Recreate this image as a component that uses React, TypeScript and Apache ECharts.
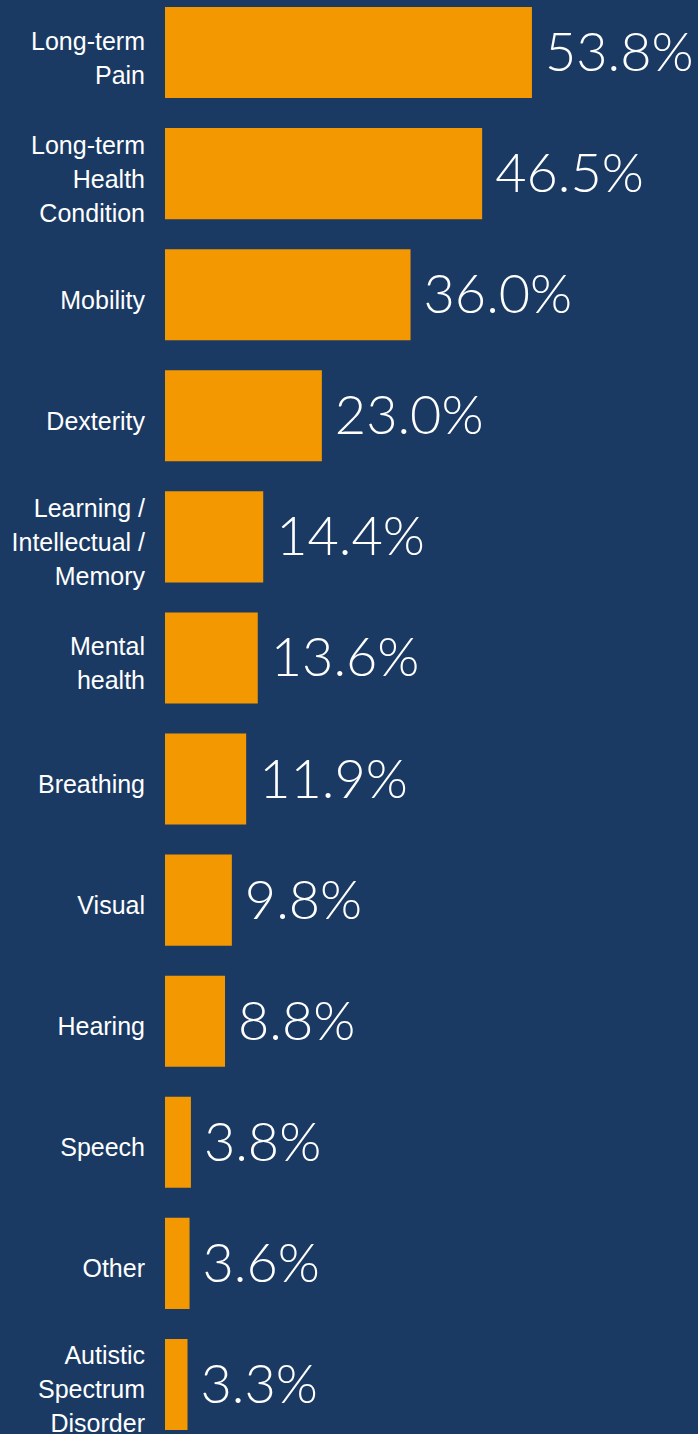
import React, { useEffect, useRef } from "react";
import * as echarts from "echarts";

const categories = [
  "Long-term\nPain",
  "Long-term\nHealth\nCondition",
  "Mobility",
  "Dexterity",
  "Learning /\nIntellectual /\nMemory",
  "Mental\nhealth",
  "Breathing",
  "Visual",
  "Hearing",
  "Speech",
  "Other",
  "Autistic\nSpectrum\nDisorder",
];
const values = [53.8, 46.5, 36.0, 23.0, 14.4, 13.6, 11.9, 9.8, 8.8, 3.8, 3.6, 3.3];

const BG = "#1a3a64";
const ORANGE = "#f39800";

export default function App() {
  const ref = useRef<HTMLDivElement>(null);
  useEffect(() => {
    document.body.style.margin = "0";
    document.body.style.overflow = "hidden";
    document.body.style.background = BG;
    const chart = echarts.init(ref.current!, null, { renderer: "svg" });
    chart.setOption({
      animation: false,
      backgroundColor: BG,
      grid: { left: 165, right: 1, top: 0, bottom: 0, containLabel: false },
      xAxis: {
        type: "value",
        min: 0,
        max: 78,
        show: false,
      },
      yAxis: {
        type: "category",
        inverse: true,
        data: categories,
        axisLine: { show: false },
        axisTick: { show: false },
        splitLine: { show: false },
        axisLabel: { show: false },
      },
      series: [
        {
          type: "bar",
          data: values,
          barCategoryGap: "24.8%",
          itemStyle: { color: ORANGE },
          label: {
            show: true,
            position: "right",
            distance: 13,
            offset: [0, -2],
            color: "#ffffff",
            fontFamily: "Lato, sans-serif",
            fontWeight: 300,
            fontSize: 54,
            formatter: (p: any) => Number(p.value).toFixed(1) + "%",
          },
        },
        {
          type: "scatter",
          data: categories.map((c) => [0, c]),
          symbolSize: 0,
          silent: true,
          itemStyle: { opacity: 1, color: "#ffffff" },
          label: {
            show: true,
            position: "left",
            distance: 20,
            offset: [0, 5],
            color: "#ffffff",
            opacity: 1,
            fontFamily: "Liberation Sans, Arial, sans-serif",
            fontSize: 25,
            lineHeight: 34,
            align: "right",
            formatter: (p: any) => categories[p.dataIndex],
          },
        },
      ],
    });
    return () => chart.dispose();
  }, []);
  return (
    <div
      ref={ref}
      style={{ width: 698, height: 1453, position: "absolute", left: 0, top: -8 }}
    />
  );
}
